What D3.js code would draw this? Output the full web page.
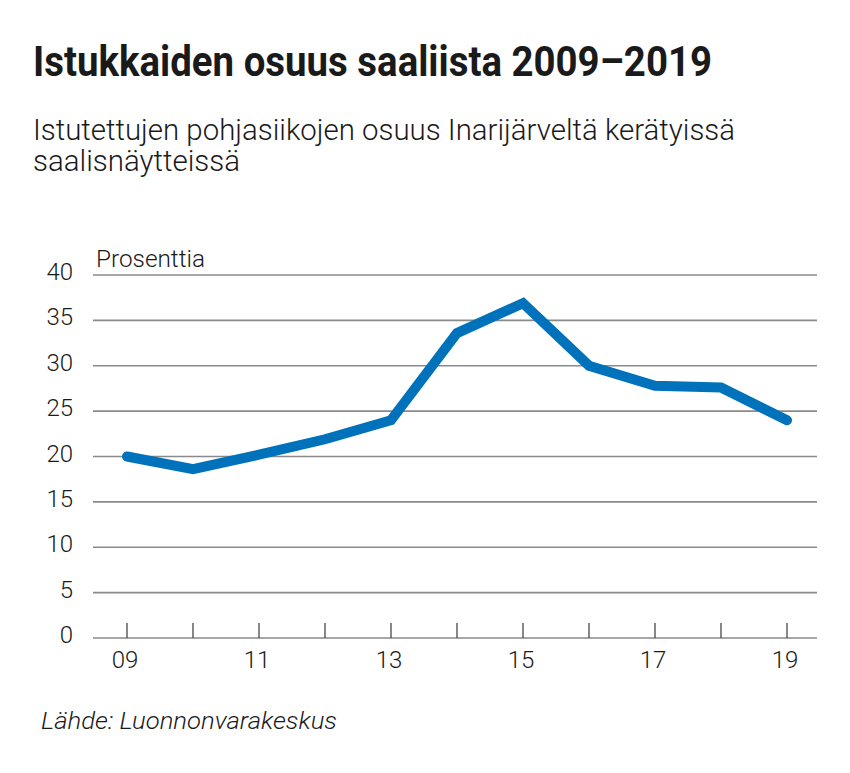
<!DOCTYPE html>
<html lang="fi">
<head>
    <meta charset="UTF-8">
    <title>Istukkaiden osuus saaliista 2009–2019</title>
    <script src="https://d3js.org/d3.v7.min.js"></script>
    <style>
        body { margin: 0; background: #fff; }
        #chart text { fill: #1a1a1a; }
    </style>
</head>
<body>
    <svg id="chart"></svg>
    <script>
        // data
        const years = [2009, 2010, 2011, 2012, 2013, 2014, 2015, 2016, 2017, 2018, 2019];
        const shares = [20.0, 18.6, 20.2, 21.9, 24.0, 33.6, 36.9, 30.0, 27.8, 27.6, 24.0];
        const yTicks = [0, 5, 10, 15, 20, 25, 30, 35, 40];
        const xLabelYears = [2009, 2011, 2013, 2015, 2017, 2019];

        const width = 850;
        const height = 773;

        const svg = d3.select('#chart')
            .attr('width', width)
            .attr('height', height);

        const font = 'Roboto, "Liberation Sans", sans-serif';

        // headings (condensed by squeezing to the reference width)
        svg.append('text')
            .attr('x', 33).attr('y', 76)
            .attr('font-family', font)
            .attr('font-weight', 700)
            .attr('font-size', 42)
            .attr('textLength', 679)
            .attr('lengthAdjust', 'spacingAndGlyphs')
            .text('Istukkaiden osuus saaliista 2009–2019');

        const sub = [
            { t: 'Istutettujen pohjasiikojen osuus Inarijärveltä kerätyissä', w: 702, y: 140 },
            { t: 'saalisnäytteissä', w: 207, y: 171 }
        ];
        svg.selectAll('.sub')
            .data(sub)
            .enter()
            .append('text')
            .attr('class', 'sub')
            .attr('x', 33).attr('y', d => d.y)
            .attr('font-family', font)
            .attr('font-weight', 300)
            .attr('font-size', 29)
            .attr('textLength', d => d.w)
            .attr('lengthAdjust', 'spacingAndGlyphs')
            .text(d => d.t);

        // scales
        const x = d3.scaleLinear().domain([2009, 2019]).range([127, 787]);
        const y = d3.scaleLinear().domain([0, 40]).range([638, 275]);
        const left = 93, right = 817;

        // gridlines
        svg.append('g')
            .selectAll('line')
            .data(yTicks)
            .enter()
            .append('line')
            .attr('x1', left).attr('x2', right)
            .attr('y1', d => y(d)).attr('y2', d => y(d))
            .attr('stroke', '#8a8a8a')
            .attr('stroke-width', 1.6);

        // y labels
        svg.append('g')
            .selectAll('text')
            .data(yTicks)
            .enter()
            .append('text')
            .attr('x', 73)
            .attr('y', d => y(d) + 5)
            .attr('text-anchor', 'end')
            .attr('font-family', font)
            .attr('font-weight', 300)
            .attr('font-size', 24)
            .text(d => d);

        svg.append('text')
            .attr('x', 96).attr('y', 267)
            .attr('font-family', font)
            .attr('font-weight', 300)
            .attr('font-size', 24)
            .attr('textLength', 109)
            .attr('lengthAdjust', 'spacingAndGlyphs')
            .text('Prosenttia');

        // x axis ticks
        svg.append('g')
            .selectAll('line')
            .data(years)
            .enter()
            .append('line')
            .attr('x1', d => x(d)).attr('x2', d => x(d))
            .attr('y1', y(0) - 15).attr('y2', y(0))
            .attr('stroke', '#555')
            .attr('stroke-width', 1.4);

        svg.append('g')
            .selectAll('text')
            .data(xLabelYears)
            .enter()
            .append('text')
            .attr('x', d => x(d) - 2)
            .attr('y', 668)
            .attr('text-anchor', 'middle')
            .attr('font-family', font)
            .attr('font-weight', 300)
            .attr('font-size', 24)
            .text(d => String(d % 100).padStart(2, '0'));

        // the line
        const line = d3.line()
            .x((d, i) => x(years[i]))
            .y(d => y(d));

        svg.append('path')
            .datum(shares)
            .attr('d', line)
            .attr('fill', 'none')
            .attr('stroke', '#0072bb')
            .attr('stroke-width', 10)
            .attr('stroke-linecap', 'round')
            .attr('stroke-linejoin', 'miter');

        // source
        svg.append('text')
            .attr('x', 41).attr('y', 729)
            .attr('font-family', font)
            .attr('font-weight', 300)
            .attr('font-style', 'italic')
            .attr('font-size', 23)
            .attr('textLength', 296)
            .attr('lengthAdjust', 'spacingAndGlyphs')
            .text('Lähde: Luonnonvarakeskus');
    </script>
</body>
</html>
